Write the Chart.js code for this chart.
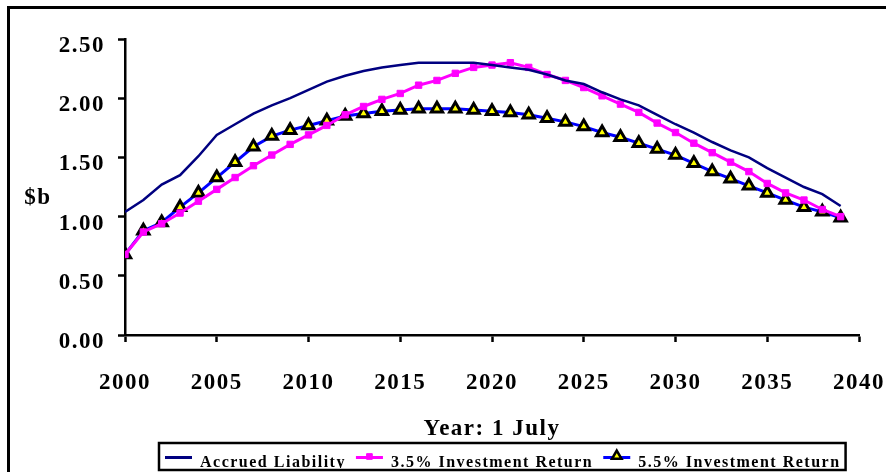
<!DOCTYPE html>
<html>
<head>
<meta charset="utf-8">
<script src="https://cdn.jsdelivr.net/npm/chart.js@4.4.1/dist/chart.umd.min.js"></script>
<style>
html,body{margin:0;padding:0;background:#fff;overflow:hidden;}
#wrap{position:relative;width:886px;height:472px;}
canvas{display:block;}
</style>
</head>
<body>
<div id="wrap"><canvas id="c" width="886" height="472"></canvas></div>
<script>
const years = [2000,2001,2002,2003,2004,2005,2006,2007,2008,2009,
               2010,2011,2012,2013,2014,2015,2016,2017,2018,2019,
               2020,2021,2022,2023,2024,2025,2026,2027,2028,2029,
               2030,2031,2032,2033,2034,2035,2036,2037,2038,2039];
const accruedLiability = [1.04,1.14,1.27,1.35,1.51,1.69,1.78,1.87,1.94,2.00,
                          2.07,2.14,2.19,2.23,2.26,2.28,2.30,2.30,2.30,2.30,
                          2.28,2.26,2.24,2.20,2.15,2.12,2.05,1.99,1.94,1.86,
                          1.78,1.71,1.63,1.56,1.50,1.41,1.33,1.25,1.19,1.09];
const return35 = [0.68,0.87,0.94,1.03,1.13,1.23,1.33,1.43,1.52,1.61,
                  1.69,1.77,1.86,1.93,1.99,2.04,2.11,2.15,2.21,2.26,
                  2.28,2.30,2.26,2.20,2.15,2.09,2.02,1.95,1.88,1.79,
                  1.71,1.62,1.54,1.46,1.38,1.28,1.20,1.14,1.06,1.00];
const return55 = [0.68,0.88,0.95,1.08,1.20,1.33,1.46,1.59,1.68,1.73,
                  1.77,1.81,1.85,1.87,1.89,1.90,1.91,1.91,1.91,1.90,
                  1.89,1.88,1.86,1.83,1.80,1.76,1.71,1.67,1.62,1.57,
                  1.52,1.45,1.38,1.32,1.26,1.20,1.14,1.08,1.04,0.99];
const seriesNames = ['Accrued Liability','3.5% Investment Return','5.5% Investment Return'];
const xTickLabels = ['2000','2005','2010','2015','2020','2025','2030','2035','2040'];
const yTickLabels = ['0.00','0.50','1.00','1.50','2.00','2.50'];
const xAxisTitle = 'Year: 1 July';
const yAxisTitle = '$b';

const FAMILY = "'Liberation Serif', 'Times New Roman', serif";
const SPACING = '1.5px';
const axisFont = {family: FAMILY, size: 23, weight: 'bold'};
const legendFont = {family: FAMILY, size: 16, weight: 'bold'};

function pts(vals) { return years.map((yr, i) => ({x: yr, y: vals[i]})); }

function marker(ctx, style, radius, bw, fill, stroke, x, y) {
  ctx.save();
  ctx.fillStyle = fill; ctx.strokeStyle = stroke; ctx.lineWidth = bw;
  if (Chart.helpers && Chart.helpers.drawPoint) {
    Chart.helpers.drawPoint(ctx, {pointStyle: style, radius: radius, rotation: 0, borderWidth: bw}, x, y);
  }
  ctx.restore();
}

const decor = {
  id: 'decor',
  beforeLayout(chart) { chart.ctx.letterSpacing = SPACING; },
  afterLayout(chart) {
    const lg = chart.legend;
    if (!lg || !lg.lineWidths) return;
    const pad = lg.options.labels.padding;
    const x0 = (lg.left + pad + lg.right - lg.lineWidths[0]) / 2;
    const dx = 165 - x0;
    lg.left += dx; lg.right += dx;
    const dy = 445 - lg.top;
    lg.top += dy; lg.bottom += dy;
  },
  beforeDraw(chart) {
    const ctx = chart.ctx;
    ctx.letterSpacing = SPACING;
    ctx.save();
    ctx.beginPath();
    ctx.rect(0, 0, chart.width, 468);
    ctx.clip();
  },
  afterDraw(chart) {
    const ctx = chart.ctx;
    ctx.restore();
    // outer frame
    ctx.save();
    ctx.strokeStyle = '#000';
    ctx.lineWidth = 3;
    ctx.strokeRect(8.5, 7.5, 1000, 1000);
    // y axis title (horizontal)
    ctx.letterSpacing = SPACING;
    ctx.fillStyle = '#000';
    ctx.font = 'bold 23px ' + FAMILY;
    ctx.textAlign = 'center';
    ctx.textBaseline = 'middle';
    ctx.fillText(yAxisTitle, 38, 198);
    ctx.restore();
    // legend frame, line samples and markers
    const lg = chart.legend;
    if (lg && lg.legendHitBoxes && lg.legendHitBoxes.length) {
      const hb = lg.legendHitBoxes;
      const first = hb[0], last = hb[hb.length - 1];
      const x0 = first.left - 6, x1 = last.left + last.width + 5;
      ctx.save();
      ctx.strokeStyle = '#000';
      ctx.lineWidth = 2.5;
      ctx.strokeRect(x0, 443, x1 - x0, 27);
      const bw = lg.options.labels.boxWidth;
      const ds = chart.data.datasets;
      const sy = 457.5;
      hb.forEach((h, i) => {
        ctx.strokeStyle = ds[i].borderColor;
        ctx.lineWidth = 3;
        ctx.beginPath();
        ctx.moveTo(h.left, sy);
        ctx.lineTo(h.left + bw, sy);
        ctx.stroke();
      });
      ctx.restore();
      marker(ctx, 'rect', 4, 1, '#FF00FF', '#FF00FF', hb[1].left + bw / 2, sy - 1);
      marker(ctx, 'triangle', 5.5, 2.5, '#FFFF00', '#000000', hb[2].left + bw / 2, sy - 1.5);
    }
  }
};

new Chart(document.getElementById('c'), {
  type: 'line',
  data: {
    datasets: [
      {
        label: seriesNames[0], data: pts(accruedLiability),
        borderColor: '#000080', backgroundColor: '#000080',
        borderWidth: 2.5, pointRadius: 0, tension: 0, fill: false
      },
      {
        label: seriesNames[1], data: pts(return35),
        borderColor: '#FF00FF', backgroundColor: '#FF00FF',
        borderWidth: 3, tension: 0, fill: false,
        pointStyle: 'rect', pointRadius: 4.5,
        pointBackgroundColor: '#FF00FF', pointBorderColor: '#FF00FF', pointBorderWidth: 1
      },
      {
        label: seriesNames[2], data: pts(return55),
        borderColor: '#0000FF', backgroundColor: '#0000FF',
        borderWidth: 3, tension: 0, fill: false,
        pointStyle: 'triangle', pointRadius: 6.5,
        pointBackgroundColor: '#FFFF00', pointBorderColor: '#000000', pointBorderWidth: 3
      }
    ]
  },
  options: {
    responsive: false,
    devicePixelRatio: 1,
    animation: false,
    events: [],
    layout: {padding: {top: 39, left: 0, right: 0, bottom: 0}},
    scales: {
      x: {
        type: 'linear', min: 2000, max: 2040,
        ticks: {
          stepSize: 5, autoSkip: false, maxRotation: 0,
          callback: (v) => xTickLabels[Math.round((v - 2000) / 5)],
          font: axisFont, color: '#000', padding: 27
        },
        grid: {drawOnChartArea: false, drawTicks: true, tickLength: 7, tickWidth: 2.5, tickColor: '#000'},
        border: {display: true, color: '#000', width: 2.5},
        title: {display: true, text: xAxisTitle, font: axisFont, color: '#000', padding: {top: 0, bottom: -7}},
        afterFit(s) { s.height = 101; s.paddingRight = 27; s.paddingLeft = 27; }
      },
      y: {
        min: 0, max: 2.5,
        ticks: {
          stepSize: 0.5,
          callback: (v) => yTickLabels[Math.round(v / 0.5)],
          font: axisFont, color: '#000', padding: 13, labelOffset: 7
        },
        grid: {drawOnChartArea: false, drawTicks: true, tickLength: 7, tickWidth: 2.5, tickColor: '#000'},
        border: {display: true, color: '#000', width: 2.5},
        afterFit(s) { s.width = 125; }
      }
    },
    plugins: {
      tooltip: {enabled: false},
      legend: {
        position: 'bottom',
        labels: {
          boxWidth: 27, boxHeight: 3, padding: 10, color: '#000', font: legendFont,
          generateLabels(chart) {
            return chart.data.datasets.map((d, i) => ({
              text: d.label, fillStyle: 'rgba(0,0,0,0)', strokeStyle: 'rgba(0,0,0,0)',
              lineWidth: 0, hidden: false, datasetIndex: i, fontColor: '#000'
            }));
          }
        }
      }
    }
  },
  plugins: [decor]
});
</script>
</body>
</html>
